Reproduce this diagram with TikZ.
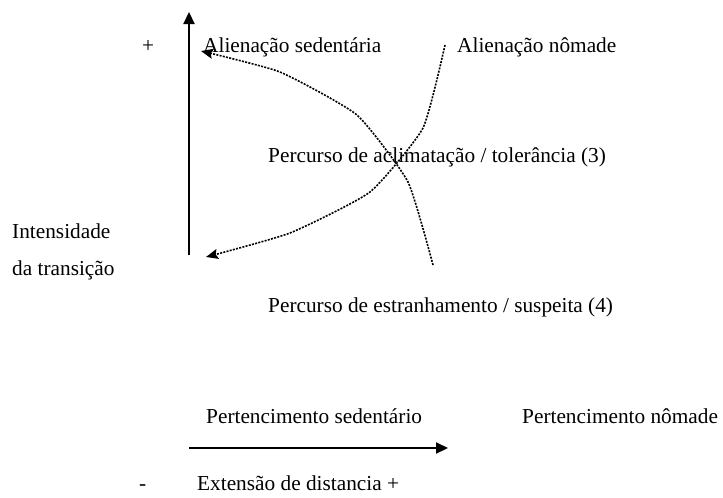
\documentclass[tikz,border=0pt]{standalone}
\usepackage{fontspec}
\setmainfont{Liberation Serif}
\usetikzlibrary{arrows.meta}
\begin{document}
\begin{tikzpicture}[x=1pt,y=-1pt,
  lbl/.style={anchor=base west,inner sep=0pt,font=\fontsize{21.3}{25}\selectfont},
  axis/.style={line width=2.2pt,-{Triangle[length=12pt,width=11pt]}},
  pathline/.style={line width=1.6pt,dash pattern=on 2pt off 1.3pt,-{Stealth[length=12pt,width=10pt,inset=2pt]}}]
\useasboundingbox (0,0) rectangle (723,498);
% axes
\coordinate (vb) at (189,255);
\coordinate (vt) at (189,12);
\draw[axis] (vb) -- (vt);
\coordinate (hl) at (189,448);
\coordinate (hr) at (448,448);
\draw[axis] (hl) -- (hr);
% labels
\node[lbl] (plus) at (142,52) {+};
\node[lbl] (alsed) at (203,52) {Alienação sedentária};
\node[lbl] (alnom) at (457,52) {Alienação nômade};
\node[lbl] (aclim) at (268,162) {Percurso de aclimatação / tolerância (3)};
\node[lbl] (inten) at (12,238) {Intensidade};
\node[lbl] (trans) at (12,275) {da transição};
\node[lbl] (estr) at (268,312) {Percurso de estranhamento / suspeita (4)};
\node[lbl] (pertsed) at (206,423) {Pertencimento sedentário};
\node[lbl] (pertnom) at (522,423) {Pertencimento nômade};
\node[lbl] (minus) at (139,490) {-};
\node[lbl] (ext) at (197,490) {Extensão de distancia +};
% dotted paths
\coordinate (c1s) at (433,265);
\coordinate (c1e) at (201,51);
\coordinate (c2s) at (445,45);
\coordinate (c2e) at (206,257);
\draw[pathline] plot[smooth,tension=0.3] coordinates {(c1s) (408,182) (357,115) (280,72) (c1e)};
\draw[pathline] plot[smooth,tension=0.3] coordinates {(c2s) (423,128) (370,192) (290,233) (c2e)};
\end{tikzpicture}
\end{document}
